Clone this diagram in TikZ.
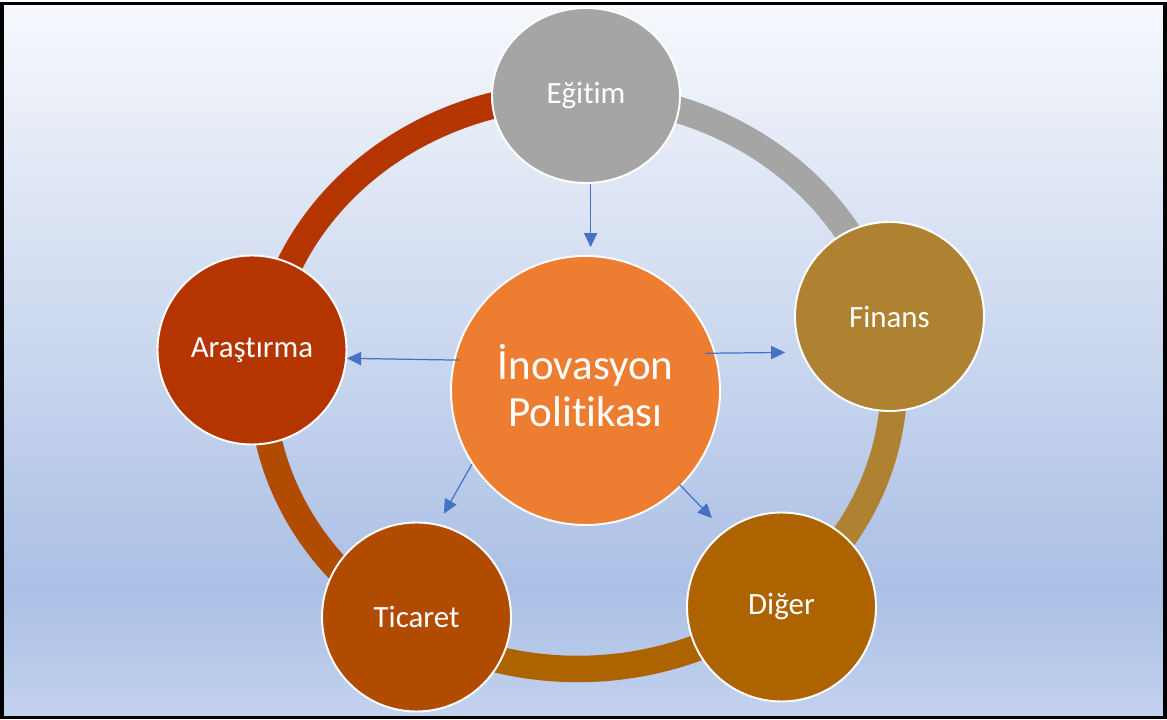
\documentclass[tikz,border=0pt]{standalone}
\usepackage{fontspec}
\setmainfont[Ligatures=NoCommon]{Carlito}
\usetikzlibrary{arrows.meta,shapes.geometric}

\definecolor{bgTop}{HTML}{F6F8FC}
\definecolor{bgMid}{HTML}{ABC0E5}
\definecolor{bgBot}{HTML}{C3D2EE}
\definecolor{cMerkez}{HTML}{ED7D31}
\definecolor{cEgitim}{HTML}{A5A5A5}
\definecolor{cFinans}{HTML}{AF8232}
\definecolor{cDiger}{HTML}{AD6300}
\definecolor{cTicaret}{HTML}{B14B00}
\definecolor{cArastirma}{HTML}{B53500}
\definecolor{cOk}{HTML}{4472C4}

\begin{document}
\begin{tikzpicture}

      \useasboundingbox (0,0) rectangle (23.34,14.4);
      \shade[top color=bgTop, bottom color=bgMid] (0.04,2.6) rectangle (23.30,14.33);
      \shade[top color=bgMid, bottom color=bgBot] (0.04,0.05) rectangle (23.30,2.6);

      \coordinate (halka) at (11.56,6.76);
      \foreach \a/\b/\c in {88.6/13.2/cEgitim, 13.2/-50.6/cFinans, -50.6/-121/cDiger,
                            -121/-186/cTicaret, 174/88.6/cArastirma}
        \draw[\c, line width=0.53cm] ([shift={(\a:6.32 and 5.74)}]halka)
          arc[start angle=\a, end angle=\b, x radius=6.32, y radius=5.74];

      \begin{scope}[every node/.style={circle,draw=white,line width=1.1pt,text=white,
          inner sep=0pt,minimum size=3.78cm,font=\fontsize{17.6}{21}\selectfont}]
        \node[fill=cMerkez, minimum size=5.38cm, align=center, text depth=5.5pt,
              font=\fontsize{24.5}{26.6}\selectfont] (merkez) at (11.71,6.59)
              {İnovasyon\\Politikası};
        \node[ellipse, fill=cEgitim, minimum width=3.76cm, minimum height=3.5cm]
              (egitim) at (11.72,12.49) {Eğitim};
        \node[fill=cFinans]    (finans)    at (17.79,8.07) {Finans};
        \node[fill=cDiger]     (diger)     at (15.63,2.26) {Diğer};
        \node[fill=cTicaret]   (ticaret)   at (8.33,2.06)  {Ticaret};
        \node[fill=cArastirma] (arastirma) at (5.04,7.40)  {Araştırma};
      \end{scope}

      \begin{scope}[every edge/.style={draw=cOk, line width=0.7pt,
          -{Triangle[length=8pt,width=7.5pt]}}]
        \path (egitim.-87) edge[shorten >=4.5pt] (egitim.-87 |- merkez.north);
        \path (merkez.167) edge[shorten <=-3.5pt] (arastirma.-5);
        \path (merkez.16)  edge[shorten <=-6pt, shorten >=9pt] (finans.202);
        \path (merkez.213) edge[shorten >=6.8pt] (ticaret.77);
        \path (merkez.-45) edge[shorten <=-1.5pt, shorten >=10pt] (diger.127);
      \end{scope}

      \draw[line width=2pt] (0.04,0.05) rectangle (23.30,14.33);

\end{tikzpicture}
\end{document}
